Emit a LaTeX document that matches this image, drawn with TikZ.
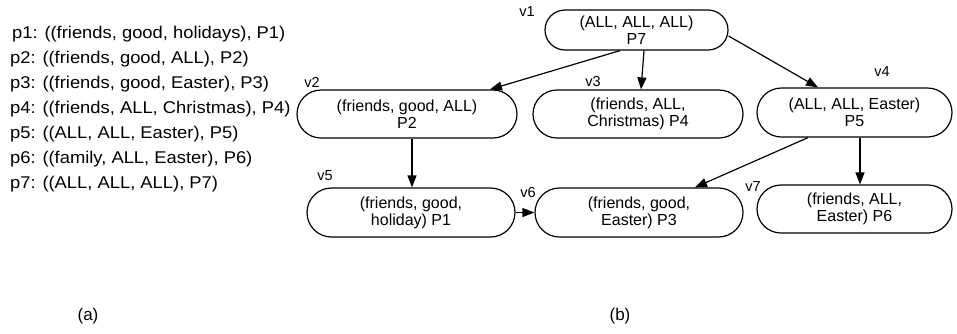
\documentclass[tikz,border=0pt]{standalone}
\usepackage{fontspec}
\setmainfont{Liberation Sans}
\newfontfamily\widefont[FakeStretch=1.08]{Liberation Sans}
\usetikzlibrary{shapes.misc,arrows.meta,calc}
\begin{document}
\begin{tikzpicture}[x=1pt,y=-1pt,
  vbox/.style={draw,line width=1.2pt,rounded rectangle,inner sep=0pt,align=center,
    font=\fontsize{16}{17}\selectfont},
  vlabel/.style={font=\fontsize{14.5}{16}\selectfont,inner sep=0pt},
  ptext/.style={anchor=base west,inner sep=0pt,font=\widefont\fontsize{17}{19}\selectfont},
  captext/.style={font=\fontsize{17}{19}\selectfont,inner sep=0pt},
  arr/.style={line width=1.2pt,-{Triangle[length=12pt,width=9pt]}}]
\useasboundingbox (0,0) rectangle (957,333);
% left list
\node[ptext] (p1) at (12,38.5) {p1: ((friends, good, holidays), P1)};
\node[ptext] (p2) at (10,63.5) {p2: ((friends, good, ALL), P2)};
\node[ptext] (p3) at (10,88.5) {p3: ((friends, good, Easter), P3)};
\node[ptext] (p4) at (10,113.5) {p4: ((friends, ALL, Christmas), P4)};
\node[ptext] (p5) at (10,138.5) {p5: ((ALL, ALL, Easter), P5)};
\node[ptext] (p6) at (10,163.5) {p6: ((family, ALL, Easter), P6)};
\node[ptext] (p7) at (10,188.5) {p7: ((ALL, ALL, ALL), P7)};
% nodes
\node[vbox,minimum width=183pt,minimum height=40pt] (v1) at (636.5,30) {(ALL, ALL, ALL)\\P7};
\node[vbox,minimum width=220pt,minimum height=48pt] (v2) at (407,114) {(friends, good, ALL)\\P2};
\node[vbox,minimum width=210pt,minimum height=48pt] (v3) at (638,114) {(friends, ALL,\\Christmas) P4};
\node[vbox,minimum width=195pt,minimum height=49pt] (v4) at (854.5,112.5) {(ALL, ALL, Easter)\\P5};
\node[vbox,minimum width=208pt,minimum height=49pt] (v5) at (411,212.5) {(friends, good,\\holiday) P1};
\node[vbox,minimum width=208pt,minimum height=49pt] (v6) at (639,212.5) {(friends, good,\\Easter) P3};
\node[vbox,minimum width=195pt,minimum height=48pt] (v7) at (854.5,209) {(friends, ALL,\\Easter) P6};
% labels
\node[vlabel] (l1) at (527,12) {v1};
\node[vlabel] (l2) at (312,82) {v2};
\node[vlabel] (l3) at (593,82) {v3};
\node[vlabel] (l4) at (882,72) {v4};
\node[vlabel] (l5) at (325,176) {v5};
\node[vlabel] (l6) at (528,193) {v6};
\node[vlabel] (l7) at (753,187) {v7};
% arrows
\draw[arr] ($(v1.south)+(-16.5,0)$) -- ($(v2.north)+(83,0)$);
\draw[arr] ($(v1.south)+(7.5,0)$) -- ($(v3.north)+(3,0)$);
\draw[arr] ($(v1.east)+(0,6)$) -- ($(v4.north)+(-36.5,0)$);
\draw[arr] ($(v2.south)+(5,0)$) -- ($(v5.north)+(1,0)$);
\draw[arr] (v5.east) -- (v6.west);
\draw[arr] ($(v4.south)+(-46.5,0)$) -- ($(v6.north)+(56,0)$);
\draw[arr] ($(v4.south)+(5.5,0)$) -- ($(v7.north)+(5.5,0)$);
% captions
\node[captext] (ca) at (88,316) {(a)};
\node[captext] (cb) at (620,316) {(b)};
\end{tikzpicture}
\end{document}
